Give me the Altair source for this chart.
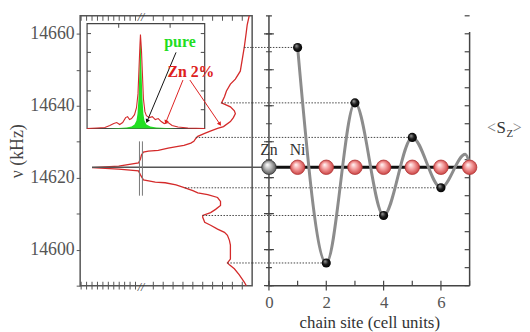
import math
import altair as alt
import pandas as pd

# ---------------- data ----------------
# main NMR spectrum (Zn 2%): intensity (arb. units, grows to the left) vs frequency (kHz)
spec_I = [0.3,0.5,0.6,0.8,1.0,1.2,1.7,2.2,2.6,2.8,3.1,2.7,2.2,1.8,1.7,1.9,2.2,2.9,3.5,4.3,
          4.8,5.5,5.7,5.9,6.2,6.9,7.5,8.5,9.5,10.5,11.0,11.2,11.3,11.5,13.5,16.2,13.5,11.5,11.3,11.0,
          9.8,8.8,7.7,6.8,6.0,5.5,4.5,3.5,3.2,3.2,3.7,4.2,5.0,5.0,4.8,4.2,3.5,2.8,2.5,2.3,
          2.2,2.2,2.2,2.5,2.3,1.8,1.3,0.8,0.6]
spec_f = [14665.0,14662.5,14660.3,14656.2,14652.9,14649.6,14647.4,14646.0,14644.1,14642.5,
          14640.8,14640.3,14639.7,14638.6,14637.8,14636.7,14635.6,14634.2,14633.7,14632.9,
          14632.3,14631.5,14630.9,14630.1,14629.6,14629.0,14628.7,14628.2,14627.6,14627.4,
          14627.1,14626.3,14625.2,14624.1,14623.2,14622.8,14622.4,14621.9,14620.8,14619.4,
          14618.8,14618.6,14618.0,14617.2,14616.4,14615.8,14615.3,14614.5,14613.4,14612.3,
          14611.2,14610.3,14609.5,14609.0,14607.6,14606.8,14605.7,14604.8,14604.0,14602.6,
          14601.3,14599.3,14597.4,14596.3,14595.8,14594.7,14593.0,14591.0,14590.0]

# spin polarisation <Sz> on each Ni site, expressed as NMR frequency
sites = [1, 2, 3, 4, 5, 6]
site_f = [14656.2, 14596.3, 14640.8, 14609.5, 14631.2, 14617.2]
site_spec_I = [0.8, 2.5, 3.1, 5.0, 5.7, 6.8]   # spectrum feature each dotted line starts from

curve_site = [1, 2, 3, 4, 5, 6, 6.85, 7]
curve_f = [14656.2, 14596.3, 14640.8, 14609.5, 14631.2, 14617.2, 14626.5, 14624.0]

chain_ni = [1, 2, 3, 4, 5, 6, 7]
chain_zn = [0]
zn_f = 14622.9
peak_I = 16.2
atom_labels = ["Zn", "Ni"]
atom_label_site = [0, 1]

x_tick_labels = [0, 2, 4, 6]
freq_ticks = list(range(14590, 14670, 10))
freq_minor = list(range(14590, 14670, 5))
top_ticks_I = [1, 2, 3, 4, 5, 6, 7, 8, 9, 10, 11.8, 12.35, 12.9, 13.45, 14.0, 14.55,
               15.1, 15.65, 16.2, 16.75, 17.3]
break_I = 11.25
double_bar_I = [11.4, 11.1]
double_bar_f = [14630.1, 14615.0]

# inset (pure vs Zn 2% spectra): horizontal frequency offset u, intensity v (arb. units)
green_u = [20,32,40,45,48,50,51,52,53,53.5,54,54.5,55,56,57,58,60,64,70,80,92]
green_v = [0,0.5,1,2,4,8,15,30,60,80,95,80,60,30,15,8,4,2,1,0.5,0]
red_u = [0,10,18,23,27,30,33,36,39,41,43,45,48,50,51.5,52.5,53.5,54,55,56,
         57,58.5,60,63,66,69,72,75,78,82,86,92,102,119]
red_v = [0,0.5,1,3,5,6,4,6,11,12,9,10,14,21,35,60,85,95,80,55,
         30,17,13,11,12,9,10,7,5,6,3,1.5,0.5,0]
inset_box = [0, 119, 0, 106]
inset_side_ticks = [19, 38, 58, 77, 96]
inset_top_ticks = [32, 84]
arrow_u1 = [90, 97, 104]
arrow_v1 = [77, 49, 49]
arrow_u2 = [61, 80, 134]
arrow_v2 = [8, 7, 5]
arrow_col = ["#111111", "#dd2020", "#dd2020"]
inset_text = ["pure", "Zn 2%"]
inset_text_u = [94, 105]
inset_text_v = [87, 57]
inset_text_col = ["#22dd22", "#dd2020"]

sz_text = ["<", "S", "Z", ">"]
sz_site = [7.76, 8.10, 8.40, 8.66]
sz_f = [14633.7, 14633.7, 14632.0, 14633.7]

# ---------------- scales / styles ----------------
SERIF = "Liberation Serif"
FDOM = [14590, 14665]
ys = alt.Scale(domain=FDOM, nice=False, zero=False)
xsL = alt.Scale(domain=[17.4, 0], nice=False, zero=False)
xsR = alt.Scale(domain=[-0.586, 7], nice=False, zero=False)
us = alt.Scale(domain=[-7, 167], nice=False, zero=False)
vs = alt.Scale(domain=[-159, 114], nice=False, zero=False)

yaxis = alt.Axis(values=freq_ticks, format="d",
                 labelExpr="datum.value % 20 == 0 ? datum.label : ''",
                 tickSize=4, tickColor="#555", domain=False, grid=False,
                 labelFont=SERIF, labelFontSize=18, labelColor="#555", labelPadding=2,
                 title="ν (kHz)", titleFont=SERIF, titleFontSize=18,
                 titleFontWeight="normal", titleColor="#444", titlePadding=3)


def YL(field="f"):
    return alt.Y(f"{field}:Q", scale=ys, axis=yaxis)


def XL(field="I"):
    return alt.X(f"{field}:Q", scale=xsL, axis=None)


def YR(field="f"):
    return alt.Y(f"{field}:Q", scale=ys, axis=None)


xaxisR = alt.Axis(values=x_tick_labels, domain=False, ticks=False, grid=False,
                  labelFont=SERIF, labelFontSize=17, labelColor="#555", labelPadding=9,
                  title="chain site (cell units)", titleFont=SERIF, titleFontSize=17,
                  titleFontWeight="normal", titleColor="#333", titlePadding=4,
                  titleX=118.5)


def XR(field="s"):
    return alt.X(f"{field}:Q", scale=xsR, axis=xaxisR)


def U(field="u"):
    return alt.X(f"{field}:Q", scale=us, axis=None)


def V(field="v"):
    return alt.Y(f"{field}:Q", scale=vs, axis=None)


# ---------------- left panel ----------------
spec_df = pd.DataFrame({"I": spec_I, "f": spec_f, "i": range(len(spec_I))})
spectrum = alt.Chart(spec_df).mark_line(color="#d42a2a", strokeWidth=1.3).encode(
    x=XL(), y=YL(), order="i:Q")

dots_df = pd.DataFrame({"s": sites, "f": site_f, "I": site_spec_I,
                        "I0": [0] * len(sites), "s0": [-0.586] * len(sites)})
dotL = alt.Chart(dots_df).mark_rule(color="#444", strokeDash=[1.5, 1.5], strokeWidth=1).encode(
    x=XL(), x2="I0:Q", y=YL())

zn_df = pd.DataFrame({"I": [peak_I], "I0": [0], "f": [zn_f], "s0": [-0.586], "s": [0], "s7": [7]})
greyL = alt.Chart(zn_df).mark_rule(color="#555", strokeWidth=1.5).encode(x=XL(), x2="I0:Q", y=YL())

bar_df = pd.DataFrame({"I": double_bar_I, "f": [double_bar_f[0]] * 2, "f2": [double_bar_f[1]] * 2})
bars = alt.Chart(bar_df).mark_rule(color="#777", strokeWidth=1).encode(x=XL(), y=YL(), y2="f2:Q")

top_df = pd.DataFrame({"I": top_ticks_I, "f": [FDOM[1]] * len(top_ticks_I)})
bot_df = pd.DataFrame({"I": top_ticks_I, "f": [FDOM[0]] * len(top_ticks_I)})
topt = alt.Chart(top_df).mark_tick(orient="vertical", size=5, thickness=1, color="#555",
                                   yOffset=2.5, opacity=1).encode(x=XL(), y=YL())
bott = alt.Chart(bot_df).mark_tick(orient="vertical", size=8, thickness=1, color="#555",
                                   opacity=1).encode(x=XL(), y=YL())

brk_df = pd.DataFrame({"I": [break_I, break_I], "f": FDOM, "t": ["//", "//"]})
brk = alt.Chart(brk_df).mark_text(font=SERIF, fontSize=12, color="#333", baseline="middle",
                                  fontStyle="italic", dy=1).encode(x=XL(), y=YL(), text="t:N")

main_left = alt.layer(spectrum, dotL, greyL, bars, topt, bott, brk)

# inset
box_df = pd.DataFrame({"u": [inset_box[0]], "u2": [inset_box[1]], "v": [inset_box[2]], "v2": [inset_box[3]]})
box = alt.Chart(box_df).mark_rect(fill="white", stroke="#444", strokeWidth=1.2).encode(
    x=U(), x2="u2:Q", y=V(), y2="v2:Q")

green_df = pd.DataFrame({"u": green_u, "v": green_v, "v0": [0] * len(green_u)})
green = alt.Chart(green_df).mark_area(color="#22e022", opacity=1).encode(x=U(), y=V(), y2="v0:Q")

red_df = pd.DataFrame({"u": red_u, "v": red_v, "i": range(len(red_u))})
redin = alt.Chart(red_df).mark_line(color="#d42a2a", strokeWidth=1.1).encode(x=U(), y=V(), order="i:Q")

lt_df = pd.DataFrame({"u": [inset_box[0]] * len(inset_side_ticks), "v": inset_side_ticks})
rt_df = pd.DataFrame({"u": [inset_box[1]] * len(inset_side_ticks), "v": inset_side_ticks})
tt_df = pd.DataFrame({"u": inset_top_ticks, "v": [inset_box[3]] * len(inset_top_ticks)})
ltick = alt.Chart(lt_df).mark_tick(orient="horizontal", size=4, thickness=1, color="#444",
                                   xOffset=2, opacity=1).encode(x=U(), y=V())
rtick = alt.Chart(rt_df).mark_tick(orient="horizontal", size=4, thickness=1, color="#444",
                                   xOffset=-2, opacity=1).encode(x=U(), y=V())
ttick = alt.Chart(tt_df).mark_tick(orient="vertical", size=4, thickness=1, color="#444",
                                   yOffset=2, opacity=1).encode(x=U(), y=V())

txt_df = pd.DataFrame({"u": inset_text_u, "v": inset_text_v, "t": inset_text, "c": inset_text_col})
itxt = alt.Chart(txt_df).mark_text(font=SERIF, fontSize=16, fontWeight="bold", baseline="middle").encode(
    x=U(), y=V(), text="t:N", color=alt.Color("c:N", scale=None))

arr_df = pd.DataFrame({"u": arrow_u1, "v": arrow_v1, "u2": arrow_u2, "v2": arrow_v2, "c": arrow_col})
arr_df["ang"] = [math.degrees(math.atan2(b - a, d - c)) % 360
                 for a, b, c, d in zip(arrow_u1, arrow_u2, arrow_v1, arrow_v2)]
arrows = alt.Chart(arr_df).mark_rule(strokeWidth=1).encode(
    x=U(), y=V(), x2="u2:Q", y2="v2:Q", color=alt.Color("c:N", scale=None))
heads = alt.Chart(arr_df).mark_point(shape="triangle", filled=True, size=22, opacity=1).encode(
    x=U("u2"), y=V("v2"), angle=alt.Angle("ang:Q", scale=None), color=alt.Color("c:N", scale=None))

inset = alt.layer(box, green, redin, ltick, rtick, ttick, arrows, heads, itxt)

left = alt.layer(main_left, inset).resolve_scale(x="independent", y="independent").properties(
    width=174, height=273, view=alt.ViewBackground(stroke="#555", strokeWidth=1.5))

# ---------------- right panel ----------------
dotR = alt.Chart(dots_df).mark_rule(color="#444", strokeDash=[1.5, 1.5], strokeWidth=1).encode(
    x=XR("s0"), x2="s:Q", y=YR())
greyR = alt.Chart(zn_df).mark_rule(color="#555", strokeWidth=1.5).encode(x=XR("s0"), x2="s:Q", y=YR())
chain = alt.Chart(zn_df).mark_rule(color="#111", strokeWidth=3).encode(x=XR("s"), x2="s7:Q", y=YR())

frame_df = pd.DataFrame({"s": [0, 7], "f": [FDOM[0], FDOM[0]], "f2": [FDOM[1], 14660.5]})
frame_v = alt.Chart(frame_df).mark_rule(color="#444", strokeWidth=1.5).encode(x=XR(), y=YR(), y2="f2:Q")
base_df = pd.DataFrame({"s": [0], "s7": [7], "f": [FDOM[0]]})
frame_h = alt.Chart(base_df).mark_rule(color="#444", strokeWidth=1.5).encode(x=XR(), x2="s7:Q", y=YR())

maj_df = pd.DataFrame({"s": [0] * len(freq_ticks), "f": freq_ticks})
min_df = pd.DataFrame({"s": [0] * len(freq_minor), "f": freq_minor})
rt2_df = pd.DataFrame({"s": [7] * len(freq_minor), "f": freq_minor})
lmaj = alt.Chart(maj_df).mark_tick(orient="horizontal", size=10, thickness=1.2, color="#444", opacity=1).encode(
    x=XR(), y=YR())
lmin = alt.Chart(min_df).mark_tick(orient="horizontal", size=6, thickness=1.2, color="#444", opacity=1).encode(
    x=XR(), y=YR())
rmin = alt.Chart(rt2_df).mark_tick(orient="horizontal", size=5, thickness=1.2, color="#444",
                                   xOffset=-2.5, opacity=1).encode(x=XR(), y=YR())
xmaj_df = pd.DataFrame({"s": [0, 2, 4, 6], "f": [FDOM[0]] * 4})
xmin_df = pd.DataFrame({"s": [1, 3, 5, 7], "f": [FDOM[0]] * 4})
xmaj = alt.Chart(xmaj_df).mark_tick(orient="vertical", size=10, thickness=1.2, color="#444", opacity=1).encode(
    x=XR(), y=YR())
xmin = alt.Chart(xmin_df).mark_tick(orient="vertical", size=5, thickness=1.2, color="#444",
                                    yOffset=-2.5, opacity=1).encode(x=XR(), y=YR())

curve_df = pd.DataFrame({"s": curve_site, "f": curve_f})
curve = alt.Chart(curve_df).mark_line(interpolate="monotone", color="#8c8c8c", strokeWidth=3).encode(
    x=XR(), y=YR())

pt_grad = {"gradient": "radial", "x1": 0.35, "y1": 0.3, "r1": 0.02, "x2": 0.5, "y2": 0.5, "r2": 0.55,
           "stops": [{"offset": 0, "color": "#9a9a9a"}, {"offset": 0.5, "color": "#1a1a1a"},
                     {"offset": 1, "color": "#000000"}]}
pts = alt.Chart(dots_df).mark_circle(size=85, fill=pt_grad, opacity=1).encode(x=XR(), y=YR())

ni_grad = {"gradient": "radial", "x1": 0.38, "y1": 0.32, "r1": 0.02, "x2": 0.5, "y2": 0.5, "r2": 0.55,
           "stops": [{"offset": 0, "color": "#fff2f2"}, {"offset": 0.45, "color": "#f39a9a"},
                     {"offset": 1, "color": "#c53838"}]}
zn_grad = {"gradient": "radial", "x1": 0.38, "y1": 0.32, "r1": 0.02, "x2": 0.5, "y2": 0.5, "r2": 0.55,
           "stops": [{"offset": 0, "color": "#ffffff"}, {"offset": 0.45, "color": "#b5b5b5"},
                     {"offset": 1, "color": "#4a4a4a"}]}
ni_df = pd.DataFrame({"s": chain_ni, "f": [zn_f] * len(chain_ni)})
zn_pt_df = pd.DataFrame({"s": chain_zn, "f": [zn_f]})
ni = alt.Chart(ni_df).mark_circle(size=215, fill=ni_grad, stroke="#b03535", strokeWidth=0.8,
                                  opacity=1).encode(x=XR(), y=YR())
zn = alt.Chart(zn_pt_df).mark_circle(size=215, fill=zn_grad, stroke="#333", strokeWidth=0.8,
                                     opacity=1).encode(x=XR(), y=YR())

lab_df = pd.DataFrame({"s": atom_label_site, "f": [zn_f] * 2, "t": atom_labels})
labs = alt.Chart(lab_df).mark_text(font=SERIF, fontSize=16, color="#333", dy=-17, baseline="middle").encode(
    x=XR(), y=YR(), text="t:N")

sz_df = pd.DataFrame({"s": sz_site, "f": sz_f, "t": sz_text,
                      "fs": [16, 17, 11, 16], "c": ["#777", "#333", "#333", "#777"]})
sz = alt.Chart(sz_df).mark_text(font=SERIF, baseline="middle").encode(
    x=XR(), y=YR(), text="t:N", size=alt.Size("fs:Q", scale=None), color=alt.Color("c:N", scale=None))

right = alt.layer(dotR, greyR, frame_v, frame_h, lmaj, lmin, rmin, xmaj, xmin, chain, curve,
                  pts, zn, ni, labs, sz).properties(width=220, height=273)

chart = alt.hconcat(left, right, spacing=0, bounds="flush").properties(
    padding={"left": 0, "top": 0, "right": 0, "bottom": 0}
).configure_view(stroke=None)

chart.save("out.html", embed_options={"renderer": "svg", "actions": False})
